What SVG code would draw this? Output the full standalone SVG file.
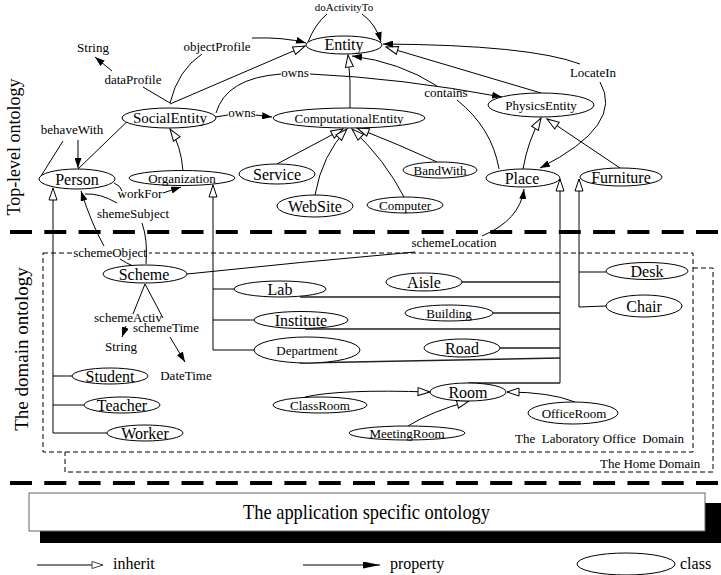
<svg xmlns="http://www.w3.org/2000/svg" width="721" height="575" viewBox="0 0 721 575">
<style>
text{font-family:"Liberation Serif","Times New Roman",serif;fill:#000}
.n ellipse{fill:#fff;stroke:#000;stroke-width:1}
.n text{text-anchor:middle}
.t16{font-size:16px}
.t13{font-size:13px}
.c path{fill:none;stroke:#000;stroke-width:1}
.c .br{stroke-width:1.4;stroke:#222}
.lb text{font-size:13px}
.thick{stroke:#000;stroke-width:4;stroke-dasharray:22 12.3;fill:none}
.box{fill:none;stroke:#000;stroke-width:1;stroke-dasharray:5 3}
</style>
<defs>
<marker id="inh" viewBox="-1 -1 14 10" markerWidth="14" markerHeight="10" refX="12" refY="4" orient="auto" markerUnits="userSpaceOnUse"><path d="M0,0 L12,4 L0,8 z" fill="#fff" stroke="#000" stroke-width="1"/></marker>
<marker id="prop" viewBox="0 0 10 7" markerWidth="10" markerHeight="7" refX="10" refY="3.5" orient="auto" markerUnits="userSpaceOnUse"><path d="M0,0 L10,3.5 L0,7 z" fill="#000"/></marker>
<marker id="inhS" viewBox="-1 -1 13 9" markerWidth="13" markerHeight="9" refX="11" refY="3.5" orient="auto" markerUnits="userSpaceOnUse"><path d="M0,0 L11,3.5 L0,7 z" fill="#fff" stroke="#444" stroke-width="1"/></marker>
<marker id="propS" viewBox="0 0 17 7" markerWidth="17" markerHeight="7" refX="17" refY="3.5" orient="auto" markerUnits="userSpaceOnUse"><path d="M0,0 L17,3.5 L0,7 z" fill="#000"/></marker>
</defs>
<rect width="721" height="575" fill="#fff"/>

<g id="layers">
<line class="thick" x1="10" y1="232" x2="721" y2="232"/>
<line class="thick" x1="10" y1="483" x2="721" y2="483"/>
<rect class="box" x="43" y="253" width="650" height="199"/>
<path class="box" d="M693,268 H713 V472 H65 V452"/>
<rect x="72" y="246" width="77" height="13" fill="#fff"/>
<text x="20" y="147" font-size="18" text-anchor="middle" transform="rotate(-90 20 147)">Top-level ontology</text>
<text x="28" y="349" font-size="19" text-anchor="middle" transform="rotate(-90 28 349)">The domain ontology</text>
<text x="515" y="443" font-size="13" xml:space="preserve" style="white-space:pre">The  Laboratory Office  Domain</text>
<text x="600" y="468" font-size="13">The Home Domain</text>
</g>

<g id="application">
<rect x="40" y="503" width="681" height="40" fill="#000"/>
<rect x="29" y="493" width="676" height="38" fill="#fff" stroke="#666" stroke-width="1"/>
<text x="366.5" y="519" font-size="22" text-anchor="middle" textLength="247" lengthAdjust="spacingAndGlyphs">The application specific ontology</text>
</g>

<g id="connectors" class="c">
<path d="M170,104 L305,46" marker-end="url(#inh)"/>
<path d="M170,103 Q178,70 202,54"/>
<path d="M252,38 Q285,37 306,43" marker-end="url(#prop)"/>
<path d="M170,103 L143,87"/>
<path d="M112,71 L95,57" marker-end="url(#prop)"/>
<path d="M78,169 L137,112" marker-end="url(#inh)"/>
<path d="M41,176 L63,141"/>
<path d="M78,140 L78,168" marker-end="url(#prop)"/>
<path d="M183,171 Q181,145 170,129" marker-end="url(#inh)"/>
<path d="M215,117 L228,115"/>
<path d="M256,115 L272,117" marker-end="url(#prop)"/>
<path d="M216,113 Q226,78 281,74"/>
<path d="M310,74 Q400,78 502,97" marker-end="url(#prop)"/>
<path d="M350,108 Q351,80 348,55" marker-end="url(#inh)"/>
<path d="M308,42 Q315,24 327,14"/>
<path d="M362,14 Q376,24 381,42" marker-end="url(#prop)"/>
<path d="M437,86 Q400,62 352,56" marker-end="url(#prop)"/>
<path d="M457,100 Q492,128 499,169"/>
<path d="M541,93 L386,47" marker-end="url(#inh)"/>
<path d="M580,64 Q530,45 383,44" marker-end="url(#prop)"/>
<path d="M600,82 Q625,125 540,168" marker-end="url(#prop)"/>
<path d="M523,169 Q528,140 541,118" marker-end="url(#inh)"/>
<path d="M620,168 L547,119" marker-end="url(#inh)"/>
<path d="M277,164 L343,129" marker-end="url(#inh)"/>
<path d="M315,195 Q322,155 347,129" marker-end="url(#inh)"/>
<path d="M404,197 Q385,160 352,129" marker-end="url(#inh)"/>
<path d="M437,162 Q400,145 357,128" marker-end="url(#inh)"/>

<path d="M53,433 L53,188" marker-end="url(#inh)"/>
<path d="M53,376 H73 M53,405 H84 M53,433 H107"/>
<path d="M213,350 V185" marker-end="url(#inh)"/>
<path d="M213,289 H235 M213,320 H254 M213,350 H254"/>
<path d="M560,383 V179" marker-end="url(#inh)"/>
<path class="br" d="M462,282 H560 M300,297 H560 M493,313 H560 M305,329 H560 M500,348 H560 M300,363 L560,358 M468,383 H560"/>
<path d="M579,307 V179" marker-end="url(#inh)"/>
<path d="M579,272 H606 M579,307 L606,306"/>
<path d="M305,397 Q340,389 430,392" marker-end="url(#inh)"/>
<path d="M408,426 Q430,412 469,401" marker-end="url(#inh)"/>
<path d="M575,402 Q550,392 507,392" marker-end="url(#inh)"/>
<path d="M187,274 Q300,262 415,252"/>
<path d="M482,236 Q520,220 524,189" marker-end="url(#prop)"/>
<path d="M117,203 Q100,193 85,194"/>
<path d="M104,246 Q92,225 81,191" marker-end="url(#prop)"/>
<path d="M142,223 Q148,240 146,264"/>
<path d="M120,259 Q126,263 133,266"/>
<path d="M145,284 L133,314"/>
<path d="M126,326 L122,337" marker-end="url(#prop)"/>
<path d="M145,284 L163,318"/>
<path d="M170,337 L185,362" marker-end="url(#prop)"/>
<path d="M114,183 Q121,186 122,191"/>
<path d="M163,193 L181,187" marker-end="url(#prop)"/>
</g>

<g id="labels" class="lb">
<text x="344" y="11" font-size="11" text-anchor="middle" style="font-size:11px">doActivityTo</text>
<text x="93" y="52" text-anchor="middle">String</text>
<text x="217" y="51" text-anchor="middle">objectProfile</text>
<text x="133" y="84" text-anchor="middle">dataProfile</text>
<text x="295" y="77" text-anchor="middle">owns</text>
<text x="242" y="117" text-anchor="middle">owns</text>
<text x="446" y="97" text-anchor="middle">contains</text>
<text x="593" y="77" text-anchor="middle">LocateIn</text>
<text x="72" y="134" text-anchor="middle">behaveWith</text>
<text x="140" y="198" text-anchor="middle">workFor</text>
<text x="133" y="218" text-anchor="middle">shemeSubject</text>
<text x="110" y="257" text-anchor="middle">schemeObject</text>
<text x="454" y="247" text-anchor="middle">schemeLocation</text>
<text x="128" y="322" text-anchor="middle">schemeActiv</text>
<text x="166" y="332" text-anchor="middle">schemeTime</text>
<text x="121" y="351" text-anchor="middle">String</text>
<text x="186" y="380" text-anchor="middle">DateTime</text>
</g>

<g class="n">
<g id="Entity"><ellipse cx="344" cy="45" rx="38" ry="9"/><text class="t16" x="344" y="50">Entity</text></g>
<g id="SocialEntity"><ellipse cx="169" cy="118" rx="47" ry="10"/><text x="170" y="123" style="font-size:15px">SocialEntity</text></g>
<g id="ComputationalEntity"><ellipse cx="349" cy="118" rx="76" ry="10"/><text class="t13" x="349" y="122.5">ComputationalEntity</text></g>
<g id="PhysicsEntity"><ellipse cx="541" cy="105" rx="53" ry="12"/><text class="t13" x="541" y="109.5">PhysicsEntity</text></g>
<g id="Person"><ellipse cx="77" cy="179" rx="38" ry="10"/><text class="t16" x="77" y="184.5">Person</text></g>
<g id="Organization"><ellipse cx="182" cy="178" rx="53" ry="7.5"/><text class="t13" x="182" y="182.5">Organization</text></g>
<g id="Service"><ellipse cx="277" cy="174" rx="38" ry="10"/><text class="t16" x="277" y="179.5">Service</text></g>
<g id="WebSite"><ellipse cx="315" cy="206" rx="38" ry="11"/><text class="t16" x="315" y="211.5">WebSite</text></g>
<g id="Computer"><ellipse cx="405" cy="205" rx="38" ry="8"/><text class="t13" x="405" y="209.5">Computer</text></g>
<g id="BandWith"><ellipse cx="440" cy="170" rx="37" ry="8"/><text class="t13" x="440" y="174.5">BandWith</text></g>
<g id="Place"><ellipse cx="523" cy="178" rx="37" ry="9"/><text class="t16" x="522" y="183.5">Place</text></g>
<g id="Furniture"><ellipse cx="621" cy="177" rx="41" ry="9"/><text class="t16" x="621" y="182.5">Furniture</text></g>
<g id="Scheme"><ellipse cx="145" cy="274" rx="42" ry="9"/><text class="t16" x="144" y="279.5">Scheme</text></g>
<g id="Lab"><ellipse cx="280" cy="289" rx="46" ry="8"/><text class="t16" x="280" y="294.5">Lab</text></g>
<g id="Institute"><ellipse cx="301" cy="320" rx="47" ry="8.5"/><text class="t16" x="301" y="325.5">Institute</text></g>
<g id="Department"><ellipse cx="307" cy="350" rx="53" ry="13"/><text class="t13" x="307" y="354.5">Department</text></g>
<g id="Aisle"><ellipse cx="424" cy="282" rx="38" ry="9"/><text class="t16" x="424" y="287.5">Aisle</text></g>
<g id="Building"><ellipse cx="449" cy="313" rx="44" ry="8"/><text class="t13" x="449" y="317.5">Building</text></g>
<g id="Road"><ellipse cx="462" cy="348" rx="38" ry="9"/><text class="t16" x="462" y="353.5">Road</text></g>
<g id="Desk"><ellipse cx="647" cy="271" rx="41" ry="8.5"/><text class="t16" x="647" y="276.5">Desk</text></g>
<g id="Chair"><ellipse cx="644" cy="306" rx="38" ry="11"/><text class="t16" x="644" y="311.5">Chair</text></g>
<g id="Room"><ellipse cx="468" cy="392" rx="38" ry="9"/><text class="t16" x="468" y="397.5">Room</text></g>
<g id="ClassRoom"><ellipse cx="320" cy="405" rx="47" ry="8"/><text class="t13" x="320" y="409.5">ClassRoom</text></g>
<g id="MeetingRoom"><ellipse cx="407" cy="433" rx="58" ry="7"/><text class="t13" x="407" y="437.5">MeetingRoom</text></g>
<g id="OfficeRoom"><ellipse cx="573" cy="413" rx="45" ry="11"/><text class="t13" x="574" y="417.5">OfficeRoom</text></g>
<g id="Student"><ellipse cx="110" cy="376" rx="38" ry="8"/><text class="t16" x="110" y="381.5">Student</text></g>
<g id="Teacher"><ellipse cx="122" cy="405" rx="38" ry="8"/><text class="t16" x="122" y="410.5">Teacher</text></g>
<g id="Worker"><ellipse cx="145" cy="433" rx="38" ry="8"/><text class="t16" x="145" y="438.5">Worker</text></g>
</g>

<g id="legend">
<path d="M37,565 H103" stroke="#555" stroke-width="1.3" fill="none" marker-end="url(#inhS)"/>
<text x="113" y="569" font-size="16">inherit</text>
<path d="M303,565 H380" stroke="#555" stroke-width="1.3" fill="none" marker-end="url(#propS)"/>
<text x="390" y="569" font-size="16">property</text>
<ellipse cx="626" cy="564" rx="49" ry="11" fill="#fff" stroke="#000" stroke-width="1"/>
<text x="680" y="569" font-size="16">class</text>
</g>
</svg>
